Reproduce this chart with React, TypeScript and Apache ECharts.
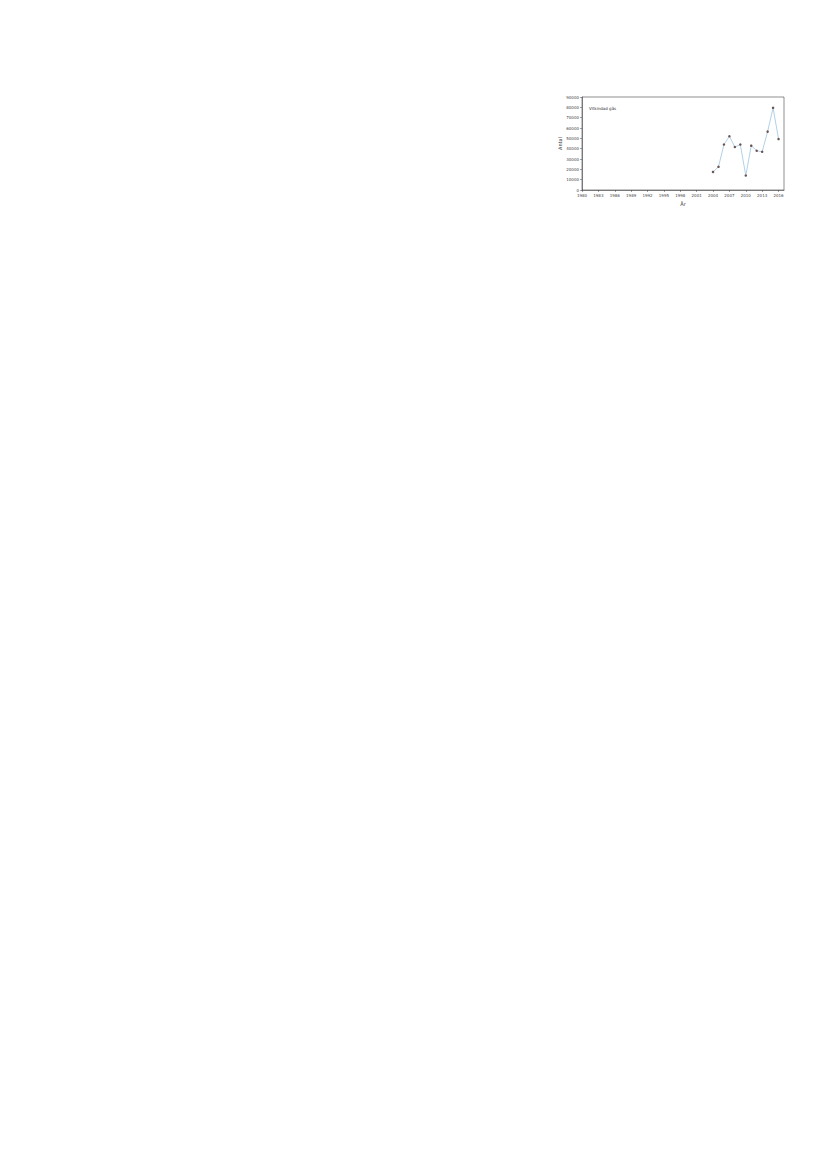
import { useEffect, useRef } from "react";
import * as echarts from "echarts";

const seriesName = "Vitkindad gås";
const years = [2004, 2005, 2006, 2007, 2008, 2009, 2010, 2011, 2012, 2013, 2014, 2015, 2016];
const counts = [17500, 22400, 44000, 52000, 41600, 44000, 14000, 42900, 38000, 37000, 56500, 79500, 49300];
const xLabel = "År";
const yLabel = "Antal";

export default function App(): JSX.Element {
  const rootRef = useRef<HTMLDivElement | null>(null);

  useEffect(() => {
    document.body.style.margin = "0";
    if (!rootRef.current) return undefined;
    const chart = echarts.init(rootRef.current, undefined, { renderer: "svg" });

    const option: echarts.EChartsOption = {
      animation: false,
      backgroundColor: "#ffffff",
      textStyle: { fontFamily: "DejaVu Sans" },
      grid: { left: 582, top: 97, width: 202, height: 93, show: true, borderColor: "#444", borderWidth: 0.6 },
      legend: {
        data: [seriesName],
        icon: "none",
        left: 584,
        top: 101,
        padding: 0,
        itemWidth: 0,
        itemGap: 0,
        textStyle: { fontSize: 4, color: "#333" }
      },
      xAxis: {
        type: "value",
        min: 1980,
        max: 2017,
        interval: 3,
        name: xLabel,
        nameLocation: "middle",
        nameGap: 11,
        nameTextStyle: { fontSize: 5, color: "#333" },
        splitLine: { show: false },
        axisLine: { lineStyle: { color: "#444", width: 0.6 } },
        axisTick: { length: 2, lineStyle: { color: "#444", width: 0.5 } },
        axisLabel: {
          fontSize: 4,
          color: "#444",
          margin: 3,
          showMaxLabel: false,
          formatter: (v: number) => ((v - 1980) % 3 === 0 ? String(v) : "")
        }
      },
      yAxis: {
        type: "value",
        min: 0,
        max: 90000,
        interval: 10000,
        name: yLabel,
        nameLocation: "middle",
        nameGap: 17,
        nameTextStyle: { fontSize: 5, color: "#333" },
        splitLine: { show: false },
        axisLine: { show: true, lineStyle: { color: "#444", width: 0.6 } },
        axisTick: { show: true, length: 2, lineStyle: { color: "#444", width: 0.5 } },
        axisLabel: { fontSize: 4, color: "#444", margin: 3, formatter: (v: number) => String(v) }
      },
      series: [
        {
          name: seriesName,
          type: "line",
          data: years.map((y, i) => [y, counts[i]]),
          symbol: "circle",
          symbolSize: 2.5,
          lineStyle: { color: "#9ec5e0", width: 0.8 },
          itemStyle: { color: "#6a5353" }
        }
      ]
    };

    chart.setOption(option);
    return () => chart.dispose();
  }, []);

  return <div ref={rootRef} style={{ width: 826, height: 1169 }} />;
}
